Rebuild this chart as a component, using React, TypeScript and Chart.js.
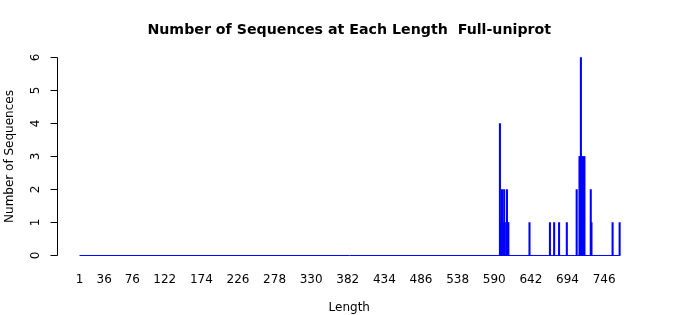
import { useEffect, useRef } from "react";
import { Chart, registerables } from "chart.js";

Chart.register(...registerables);

// ---- data ----
const lengths = [598, 599, 600, 601, 602, 603, 604, 605, 608, 609, 610, 640, 669, 675, 682, 693, 707, 711, 712, 713, 714, 715, 716, 717, 718, 727, 728, 758, 768];
const counts = [4, 1, 1, 2, 1, 1, 2, 1, 2, 1, 1, 1, 1, 1, 1, 1, 2, 3, 3, 6, 3, 3, 2, 3, 3, 2, 1, 1, 1];
const xTickLabels = [1, 36, 76, 122, 174, 226, 278, 330, 382, 434, 486, 538, 590, 642, 694, 746];
const yTicks = [0, 1, 2, 3, 4, 5, 6];
const minLength = 1;
const maxLength = 768;
const titleText = "Number of Sequences at Each Length  Full-uniprot";
const xTitle = "Length";
const yTitle = "Number of Sequences";

const FONT = '"DejaVu Sans", "Liberation Sans", sans-serif';

const rYAxis = {
  id: "rYAxis",
  afterDraw(chart: any) {
    const { ctx, chartArea, scales } = chart;
    const ys = scales.y;
    const x = Math.round(chartArea.left) + 0.5;
    ctx.save();
    ctx.strokeStyle = "#000";
    ctx.lineWidth = 1;
    ctx.beginPath();
    ctx.moveTo(x, ys.getPixelForValue(yTicks[0]));
    ctx.lineTo(x, ys.getPixelForValue(yTicks[yTicks.length - 1]));
    yTicks.forEach((v) => {
      const py = ys.getPixelForValue(v);
      ctx.moveTo(x - 7, py);
      ctx.lineTo(x, py);
    });
    ctx.stroke();
    ctx.fillStyle = "#000";
    ctx.font = `12px ${FONT}`;
    ctx.textAlign = "center";
    ctx.textBaseline = "middle";
    yTicks.forEach((v) => {
      const py = ys.getPixelForValue(v);
      ctx.save();
      ctx.translate(36, py);
      ctx.rotate(-Math.PI / 2);
      ctx.fillText(String(v), 0, 0);
      ctx.restore();
    });
    ctx.save();
    ctx.translate(10, (chartArea.top + chartArea.bottom) / 2);
    ctx.rotate(-Math.PI / 2);
    ctx.fillText(yTitle, 0, 0);
    ctx.restore();
    ctx.restore();
  },
};

export default function App() {
  const ref = useRef<HTMLCanvasElement | null>(null);
  useEffect(() => {
    if (!ref.current) return;
    const chart = new Chart(ref.current, {
      type: "bar",
      data: {
        datasets: [
          {
            type: "line",
            data: [
              { x: minLength, y: 0 },
              { x: maxLength, y: 0 },
            ],
            borderColor: "#0000ff",
            borderWidth: 1,
            pointRadius: 0,
          } as any,
          {
            type: "bar",
            data: lengths.map((l, i) => ({ x: l, y: counts[i] })),
            backgroundColor: "#0000ff",
            borderWidth: 0,
            barThickness: 1.4,
          } as any,
        ],
      },
      plugins: [rYAxis],
      options: {
        animation: false,
        responsive: false,
        events: [],
        layout: { padding: { left: 57, right: 58.5, top: 0, bottom: 0 } },
        plugins: {
          legend: { display: false },
          tooltip: { enabled: false },
          title: {
            display: true,
            text: titleText,
            color: "#000",
            font: { family: FONT, size: 14.2, weight: "bold", lineHeight: 1.2 },
            padding: { top: 21.8, bottom: 10.76 },
          },
        },
        scales: {
          x: {
            type: "linear",
            offset: false,
            min: -30.95,
            max: 799.05,
            grid: { display: false, drawTicks: false },
            border: { display: false },
            afterBuildTicks: (scale: any) => {
              scale.ticks = xTickLabels.map((v) => ({ value: v }));
            },
            afterFit: (scale: any) => {
              scale.height = 51.6;
            },
            ticks: {
              autoSkip: false,
              maxRotation: 0,
              minRotation: 0,
              padding: 9,
              color: "#000",
              font: { family: FONT, size: 12 },
              callback: (v: any) => String(v),
            },
            title: {
              display: true,
              text: xTitle,
              color: "#000",
              font: { family: FONT, size: 12, lineHeight: 1.2 },
              padding: { top: 0, bottom: 0 },
            },
          },
          y: {
            display: false,
            min: -0.24,
            max: 6.24,
          },
        },
      } as any,
    });
    return () => chart.destroy();
  }, []);
  return (
    <div style={{ position: "fixed", left: 0, top: 0, width: 700, height: 315, background: "#fff" }}>
      <canvas ref={ref} width={700} height={315} style={{ display: "block" }} />
    </div>
  );
}
